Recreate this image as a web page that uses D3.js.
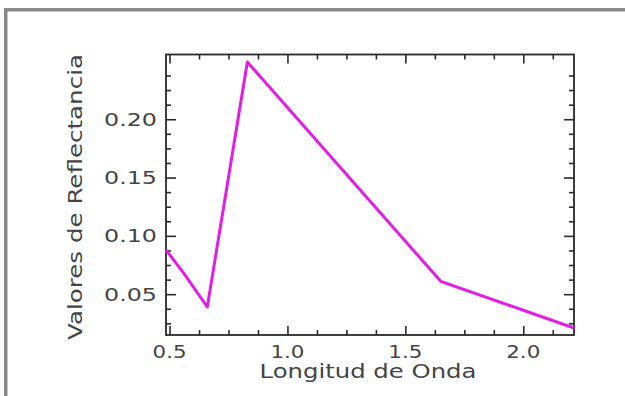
<!DOCTYPE html>
<html>
<head>
<meta charset="utf-8">
<script src="https://cdn.jsdelivr.net/npm/d3@7"></script>
<style>
	html, body { margin: 0; padding: 0; background: #fff; }
	svg { display: block; }
</style>
</head>
<body>
<div id="chart"></div>
<script>
// band centres (um) and reflectance
var wavelengths = [0.485, 0.56, 0.66, 0.83, 1.65, 2.215];
var reflectance = [0.088, 0.068, 0.039, 0.249, 0.061, 0.021];

var xTickLabels = ["0.5", "1.0", "1.5", "2.0"];
var yTickLabels = ["0.05", "0.10", "0.15", "0.20"];

var xTitle = "Longitud de Onda",
	yTitle = "Valores de Reflectancia";

var width = 625,
	height = 396,
	margin = { left: 166, right: 51, top: 54.5, bottom: 61 },
	pw = width - margin.left - margin.right,
	ph = height - margin.top - margin.bottom,
	font = "'DejaVu Sans', sans-serif",
	textColor = "#444",
	axisColor = "#2a2a2a";

var svg = d3.select("#chart").append("svg")
	.attr("width", width)
	.attr("height", height);

// grey frame of the screenshot (top and left only)
svg.append("rect").attr("x", 4).attr("y", 8).attr("width", width - 4).attr("height", 3.5).attr("fill", "#888");
svg.append("rect").attr("x", 4).attr("y", 8).attr("width", 3.5).attr("height", height - 8).attr("fill", "#888");

var x = d3.scaleLinear().domain([0.485, 2.215]).range([0, pw]);
var y = d3.scaleLinear().domain([0.015, 0.2555]).range([ph, 0]);

var g = svg.append("g").attr("transform", "translate(" + margin.left + "," + margin.top + ")");

var xMajor = xTickLabels.map(Number),
	yMajor = yTickLabels.map(Number),
	xMinor = d3.range(0.5, 2.215, 0.125),
	yMinor = d3.range(0.025, 0.25, 0.0125);

function isMajor(v, list) {
	return list.some(function (m) { return Math.abs(m - v) < 1e-6; });
}

// ticks on all four sides, drawn with d3 axes and inward tick lines
function styleAxis(sel) {
	sel.select(".domain").remove();
	sel.selectAll("line").attr("stroke", axisColor).attr("stroke-width", 1.6);
	sel.selectAll("text").remove();
}

var xb = g.append("g").attr("transform", "translate(0," + ph + ")").call(d3.axisBottom(x).tickValues(xMinor).tickSize(0));
xb.selectAll(".tick line").attr("y2", function (d) { return isMajor(d, xMajor) ? -9 : -5; });
styleAxis(xb);

var xt = g.append("g").call(d3.axisTop(x).tickValues(xMinor).tickSize(0));
xt.selectAll(".tick line").attr("y2", function (d) { return isMajor(d, xMajor) ? 9 : 5; });
styleAxis(xt);

var yl = g.append("g").call(d3.axisLeft(y).tickValues(yMinor).tickSize(0));
yl.selectAll(".tick line").attr("x2", function (d) { return isMajor(d, yMajor) ? 10 : 5; });
styleAxis(yl);

var yr = g.append("g").attr("transform", "translate(" + pw + ",0)").call(d3.axisRight(y).tickValues(yMinor).tickSize(0));
yr.selectAll(".tick line").attr("x2", function (d) { return isMajor(d, yMajor) ? -10 : -5; });
styleAxis(yr);

// frame
g.append("rect")
	.attr("width", pw)
	.attr("height", ph)
	.attr("fill", "none")
	.attr("stroke", axisColor)
	.attr("stroke-width", 1.8);

// tick labels (glyphs stretched to the wide vector-font look)
g.append("g").selectAll("text")
	.data(xTickLabels)
	.join("text")
	.attr("x", function (d) { return x(+d); })
	.attr("y", ph + 23)
	.attr("text-anchor", "middle")
	.attr("font-family", font)
	.attr("font-size", 18)
	.attr("fill", textColor)
	.attr("textLength", 34)
	.attr("lengthAdjust", "spacingAndGlyphs")
	.text(function (d) { return d; });

g.append("g").selectAll("text")
	.data(yTickLabels)
	.join("text")
	.attr("x", -9)
	.attr("y", function (d) { return y(+d) + 6.5; })
	.attr("text-anchor", "end")
	.attr("font-family", font)
	.attr("font-size", 18)
	.attr("fill", textColor)
	.attr("textLength", 53)
	.attr("lengthAdjust", "spacingAndGlyphs")
	.text(function (d) { return d; });

// titles
svg.append("text")
	.attr("x", 368)
	.attr("y", 378)
	.attr("text-anchor", "middle")
	.attr("font-family", font)
	.attr("font-size", 19)
	.attr("fill", textColor)
	.attr("textLength", 217)
	.attr("lengthAdjust", "spacingAndGlyphs")
	.text(xTitle);

svg.append("text")
	.attr("transform", "translate(82,197) rotate(-90)")
	.attr("text-anchor", "middle")
	.attr("font-family", font)
	.attr("font-size", 19)
	.attr("fill", textColor)
	.attr("textLength", 286)
	.attr("lengthAdjust", "spacingAndGlyphs")
	.text(yTitle);

// reflectance curve
var line = d3.line()
	.x(function (d) { return x(d[0]); })
	.y(function (d) { return y(d[1]); });

g.append("path")
	.datum(d3.zip(wavelengths, reflectance))
	.attr("fill", "none")
	.attr("stroke", "#e41de4")
	.attr("stroke-width", 3)
	.attr("stroke-linejoin", "round")
	.attr("d", line);
</script>
</body>
</html>
